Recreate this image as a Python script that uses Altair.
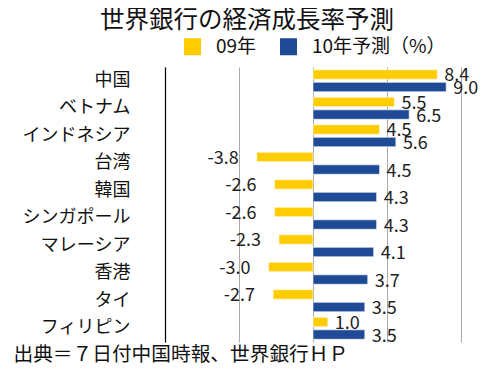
import altair as alt
import pandas as pd

countries = ["中国", "ベトナム", "インドネシア", "台湾", "韓国", "シンガポール",
             "マレーシア", "香港", "タイ", "フィリピン"]
v09 = [8.4, 5.5, 4.5, -3.8, -2.6, -2.6, -2.3, -3.0, -2.7, 1.0]
v10 = [9.0, 6.5, 5.6, 4.5, 4.3, 4.3, 4.1, 3.7, 3.5, 3.5]
series = ["09年", "10年予測（%）"]
colors = ["#FFCC00", "#1F4A96"]

rows = []
for c, a, b in zip(countries, v09, v10):
    rows.append({"country": c, "series": series[0], "value": a, "label": f"{a:.1f}"})
    rows.append({"country": c, "series": series[1], "value": b, "label": f"{b:.1f}"})
df = pd.DataFrame(rows)

FONT = "Noto Sans CJK JP"

y = alt.Y("country:N", sort=countries,
          scale=alt.Scale(paddingInner=0.2, paddingOuter=0.1),
          axis=alt.Axis(title=None, labelFont=FONT, labelFontSize=18, labelColor="#111",
                        labelPadding=35, ticks=False, domain=True, domainColor="#000",
                        domainWidth=1.2, grid=False, labelAlign="right"))
yoff = alt.YOffset("series:N", sort=series, scale=alt.Scale(paddingInner=0.25))
x = alt.X("value:Q", scale=alt.Scale(domain=[-10, 10], nice=False),
          axis=alt.Axis(values=[-10, -5, 0, 5, 10], labels=False, ticks=False, domain=False,
                        grid=True, gridColor="#aaaaaa", gridWidth=1,
                        title="出典＝７日付中国時報、世界銀行ＨＰ", titleFont=FONT,
                        titleFontSize=19.7, titleFontWeight="normal", titleColor="#111",
                        titleAnchor="start", titleAlign="left", titleX=-152, titleY=12,
                        titleBaseline="middle"))

base = alt.Chart(df)
bars = base.mark_bar(stroke="white", strokeWidth=0.6).encode(
    y=y, yOffset=yoff, x=x,
    color=alt.Color("series:N", sort=series,
                    scale=alt.Scale(domain=series, range=colors),
                    legend=alt.Legend(title=None, orient="none", direction="horizontal",
                                      legendX=18, legendY=-30, symbolType="square",
                                      symbolSize=290, symbolStrokeWidth=0,
                                      labelFont=FONT, labelFontSize=19, labelColor="#111",
                                      labelOffset=14, columnPadding=22, symbolOpacity=1)),
)
pos = base.transform_filter("datum.value >= 0").mark_text(
    align="left", baseline="middle", dx=7, dy=2, font=FONT, fontSize=18, color="#222"
).encode(y=y, yOffset=yoff, x=x, text="label:N")
neg = base.transform_filter("datum.value < 0").mark_text(
    align="right", baseline="middle", dx=-18, dy=2, font=FONT, fontSize=18, color="#222"
).encode(y=y, yOffset=yoff, x=x, text="label:N")

chart = alt.layer(bars, pos, neg).properties(
    width=296, height=275,
    title=alt.Title("世界銀行の経済成長率予測", font=FONT, fontSize=24.5, fontWeight="normal",
                    color="#111", anchor="middle", dx=-66, offset=4),
    padding={"left": 157, "top": 59, "right": 33, "bottom": 21},
    autosize=alt.AutoSizeParams(type="none"),
).configure_view(stroke=None).configure_axis(labelLimit=0)

chart.save("out.html", embed_options={"renderer": "svg", "actions": False})
